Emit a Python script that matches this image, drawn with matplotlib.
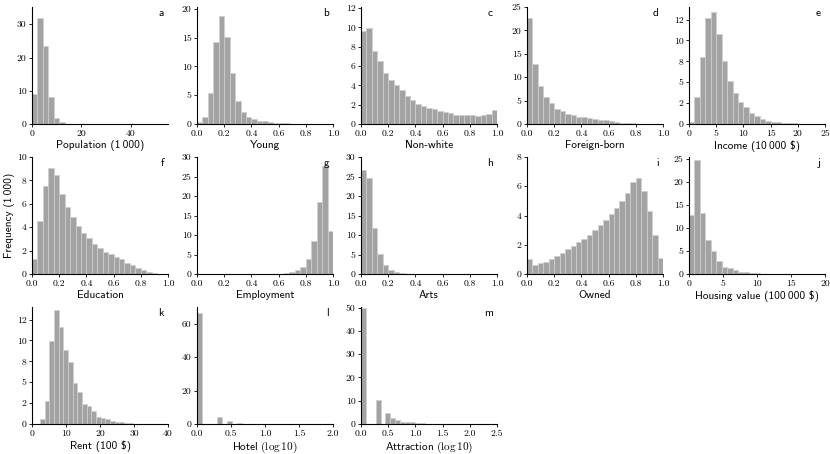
import numpy as np
import matplotlib
matplotlib.use("Agg")
import matplotlib.pyplot as plt
from matplotlib.ticker import FormatStrFormatter, MultipleLocator

plt.rcParams["mathtext.fontset"] = "cm"
plt.rcParams["font.family"] = ["cmr10", "DejaVu Sans"]

# histogram heights (frequency in thousands), 25 bins each
pop_counts = [9.1, 32.0, 23.4, 8.0, 1.7, 0.5, 0.15, 0.06, 0.03, 0.02, 0.01, 0.01, 0.01,
              0, 0, 0, 0, 0, 0, 0, 0, 0, 0, 0, 0.005]
young_counts = [0.35, 1.3, 5.3, 14.2, 18.7, 15.1, 8.8, 4.0, 2.05, 1.25, 0.85, 0.6, 0.45,
                0.3, 0.2, 0.15, 0.1, 0.07, 0.05, 0.04, 0.03, 0.02, 0.02, 0.01, 0.01]
nonwhite_counts = [9.66, 9.9, 7.5, 6.47, 5.29, 4.58, 4.0, 3.49, 2.88, 2.47, 2.1, 1.86, 1.66,
                   1.53, 1.36, 1.19, 1.12, 0.98, 0.92, 0.88, 0.88, 0.85, 0.88, 1.0, 1.49]
foreign_counts = [22.7, 12.75, 8.2, 5.85, 4.45, 3.25, 2.75, 2.2, 1.85, 1.55, 1.5, 1.3, 1.13,
                  0.9, 0.75, 0.55, 0.4, 0.3, 0.2, 0.12, 0.08, 0.05, 0.03, 0.02, 0.01]
income_counts = [0.28, 3.2, 8.0, 12.67, 13.4, 10.76, 7.5, 5.18, 3.7, 2.6, 2.0, 1.3, 0.9,
                 0.55, 0.4, 0.28, 0.2, 0.12, 0.08, 0.06, 0.04, 0.03, 0.02, 0.02, 0.01]
education_counts = [1.26, 4.54, 7.53, 9.02, 8.42, 6.84, 5.69, 4.83, 4.08, 3.5, 3.05, 2.56, 2.21,
                    1.87, 1.7, 1.44, 1.24, 0.95, 0.78, 0.52, 0.32, 0.17, 0.08, 0.03, 0.01]
employment_counts = [0.01, 0.01, 0.01, 0.01, 0.01, 0.01, 0.01, 0.01, 0.01, 0.01, 0.01, 0.01, 0.02,
                     0.03, 0.04, 0.08, 0.2, 0.45, 0.9, 1.7, 3.8, 8.4, 18.4, 27.6, 11.1]
arts_counts = [26.7, 24.65, 11.7, 5.2, 2.4, 1.05, 0.45, 0.2, 0.1, 0.05, 0.03, 0.02, 0.02,
               0.01, 0.01, 0.01, 0.01, 0.01, 0, 0, 0, 0, 0, 0, 0]
owned_counts = [1.02, 0.59, 0.73, 0.84, 1.05, 1.25, 1.41, 1.73, 1.93, 2.16, 2.41, 2.7, 3.02,
                3.36, 3.7, 4.07, 4.52, 4.98, 5.55, 6.3, 6.57, 5.68, 4.3, 2.66, 1.07]
housing_counts = [12.8, 24.85, 13.25, 7.4, 5.0, 2.8, 1.6, 1.37, 0.85, 0.5, 0.35, 0.25, 0.15,
                  0.1, 0.07, 0.05, 0.04, 0.03, 0.02, 0.02, 0.01, 0.01, 0.01, 0.01, 0.01]
rent_counts = [0.56, 2.7, 9.9, 13.67, 11.55, 8.84, 7.37, 4.9, 3.78, 2.35, 2.15, 1.55, 0.88,
               0.72, 0.56, 0.4, 0.28, 0.18, 0.12, 0.08, 0.05, 0.04, 0.03, 0.02, 0.01]
hotel_counts = [66.6, 0, 0, 0, 4.2, 0, 1.5, 0, 0.7, 0.25, 0.15, 0.12, 0.08,
                0.05, 0.04, 0.03, 0.02, 0.02, 0.01, 0.01, 0.01, 0.01, 0.005, 0.005, 0.005]
attraction_counts = [49.8, 0, 0, 10.5, 0, 4.55, 2.4, 1.55, 0.9, 0.8, 1.0, 0.6, 0.55,
                     0.2, 0.15, 0.1, 0.08, 0.05, 0.04, 0.03, 0.02, 0.02, 0.01, 0.01, 0.01]

# data range of each variable (histogram range)
bin_ranges = [(0, 55), (0, 1), (0, 1), (0, 1), (0, 25),
              (0, 1), (0, 1), (0, 1), (0, 1), (0, 20),
              (2.4, 36.65), (0, 1.825), (0, 2.25)]

labels = ["Population (1\u2009000)", "Young", "Non-white", "Foreign-born", "Income (10\u2009000 $)",
          "Education", "Employment", "Arts", "Owned", "Housing value (100\u2009000 $)",
          "Rent (100 $)", "Hotel (log10)", "Attraction (log10)"]
letters = list("abcdefghijklm")

all_counts = [pop_counts, young_counts, nonwhite_counts, foreign_counts, income_counts,
              education_counts, employment_counts, arts_counts, owned_counts, housing_counts,
              rent_counts, hotel_counts, attraction_counts]

# axis settings: xlim, xtick step, x format, ylim top, ytick step
axis_cfg = [
    ((0, 55), 20, "%.0f", 35.2, 10),
    ((0, 1), 0.2, "%.1f", 20.3, 5),
    ((0, 1), 0.2, "%.1f", 12.1, 2),
    ((0, 1), 0.2, "%.1f", 25.0, 5),
    ((0, 25), 5, "%.0f", 14.0, 2.5),
    ((0, 1), 0.2, "%.1f", 10.0, 2),
    ((0, 1), 0.2, "%.1f", 30.0, 5),
    ((0, 1), 0.2, "%.1f", 30.0, 5),
    ((0, 1), 0.2, "%.1f", 8.0, 2),
    ((0, 20), 5, "%.0f", 25.4, 5),
    ((0, 40), 10, "%.0f", 14.0, 2.5),
    ((0, 2), 0.5, "%.1f", 70.0, 20),
    ((0, 2.5), 0.5, "%.1f", 50.3, 10),
]

W, H = 830, 454
fig = plt.figure(figsize=(W / 100, H / 100), dpi=100)

col_left = [32, 197, 361, 527, 689]
row_top = [7, 157, 307]
ax_w, ax_h = 136, 117

sans = ["cmss10", "DejaVu Sans"]
lab_size = 8.1

for i, counts in enumerate(all_counts):
    r, c = divmod(i, 5)
    left = col_left[c] / W
    bottom = (H - row_top[r] - ax_h) / H
    ax = fig.add_axes([left, bottom, ax_w / W, ax_h / H])

    lo, hi = bin_ranges[i]
    edges = np.linspace(lo, hi, len(counts) + 1)
    ax.bar(edges[:-1], counts, width=np.diff(edges), align="edge",
           color="#a3a3a3", edgecolor="#cfcfcf", linewidth=0.5)

    xlim, xstep, xfmt, ytop, ystep = axis_cfg[i]
    ax.set_xlim(*xlim)
    ax.set_ylim(0, ytop)
    ax.xaxis.set_major_locator(MultipleLocator(xstep))
    ax.yaxis.set_major_locator(MultipleLocator(ystep))
    ax.xaxis.set_major_formatter(FormatStrFormatter(xfmt))
    ax.yaxis.set_major_formatter(FormatStrFormatter("%.0f"))

    for side in ["top", "right"]:
        ax.spines[side].set_visible(False)
    for side in ["left", "bottom"]:
        ax.spines[side].set_linewidth(0.8)
    ax.tick_params(direction="out", length=2.5, width=0.6, pad=1.5, labelsize=7)

    if "log10" in labels[i]:
        name = labels[i].split(" (")[0]
        ax.set_xlabel(r"$\mathsf{" + name + r"\ (}\log10\mathsf{)}$", fontsize=lab_size, labelpad=1.5)
    else:
        ax.set_xlabel(labels[i], fontsize=lab_size, family=sans, labelpad=1.5)
    ax.text(0.97, 0.99, letters[i], transform=ax.transAxes, ha="right", va="top",
            fontsize=lab_size, family=sans)

    if i == 5:
        ax.set_ylabel("Frequency (1\u2009000)", fontsize=lab_size, family=sans, labelpad=1.5)

fig.savefig("out.png", dpi=100)
